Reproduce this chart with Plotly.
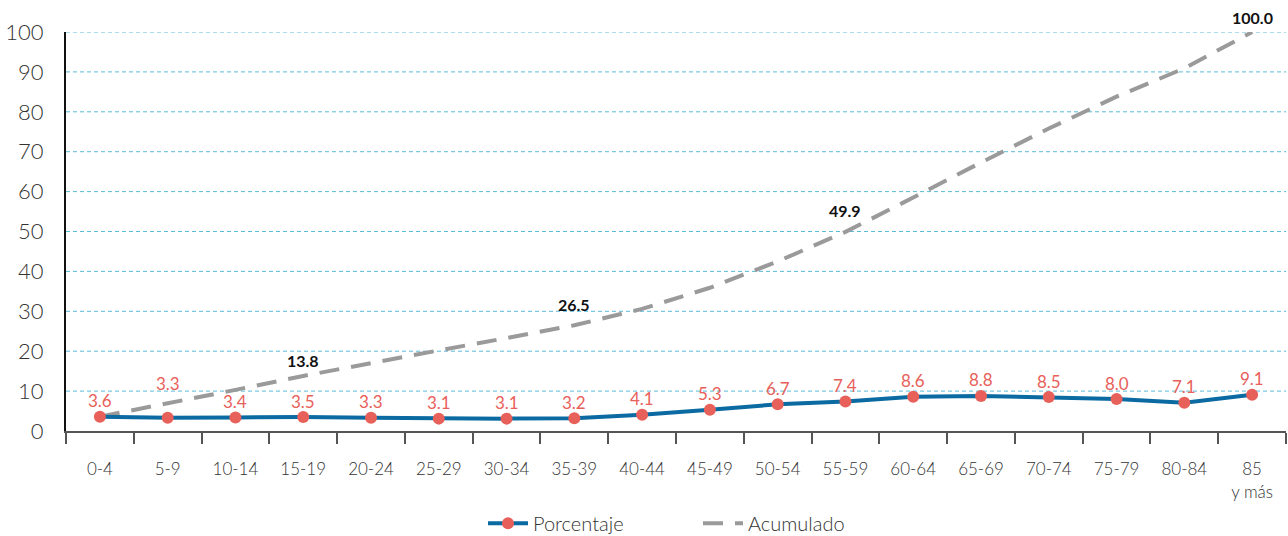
import plotly.graph_objects as go

categories = ["0-4", "5-9", "10-14", "15-19", "20-24", "25-29", "30-34", "35-39", "40-44",
              "45-49", "50-54", "55-59", "60-64", "65-69", "70-74", "75-79", "80-84", "85<br>y más"]
porcentaje = [3.6, 3.3, 3.4, 3.5, 3.3, 3.1, 3.1, 3.2, 4.1, 5.3, 6.7, 7.4, 8.6, 8.8, 8.5, 8.0, 7.1, 9.1]
acumulado = [3.6, 6.9, 10.3, 13.8, 17.1, 20.2, 23.3, 26.5, 30.6, 35.9, 42.5, 49.9, 58.5, 67.3, 75.8, 83.8, 90.9, 100.0]
acum_label_idx = [3, 7, 11, 17]
y_ticks = [0, 10, 20, 30, 40, 50, 60, 70, 80, 90, 100]

FONT = "Lato"
BLUE = "#0a6aa1"
RED = "#e8605a"
GRAY = "#9a9a9a"
GRID = "#5bbbd9"
TXT = "#333333"

fig = go.Figure()
for v in y_ticks[1:]:
    fig.add_shape(type="line", xref="paper", x0=0, x1=1, yref="y", y0=v, y1=v,
                  line=dict(color=GRID, width=1, dash="4px,3px"), layer="below")

fig.add_trace(go.Scatter(
    x=categories, y=acumulado, mode="lines", name="Acumulado",
    line=dict(color=GRAY, width=4, dash="20px,12px"), cliponaxis=False,
))
fig.add_trace(go.Scatter(
    x=categories, y=porcentaje, mode="lines+markers", name="Porcentaje",
    line=dict(color=BLUE, width=4),
    marker=dict(color=RED, size=12), cliponaxis=False,
))

for i, (c, v) in enumerate(zip(categories, porcentaje)):
    fig.add_annotation(x=c, y=v, text=f"{v:.1f}", showarrow=False,
                       yshift=34 if i == 1 else 16,
                       font=dict(family=FONT, size=17, color=RED))
for i in acum_label_idx:
    fig.add_annotation(x=categories[i], y=acumulado[i], text=f"<b>{acumulado[i]:.1f}</b>",
                       showarrow=False, yshift=15 if i in (3, 17) else 21,
                       font=dict(family=FONT, size=16, color="#111111"))

fig.update_layout(
    width=1288, height=536,
    margin=dict(l=66, r=2, t=32, b=105, autoexpand=False),
    paper_bgcolor="white", plot_bgcolor="white",
    font=dict(family=FONT, color=TXT),
    showlegend=True,
    legend=dict(orientation="h", x=0.3418, xanchor="left", yref="container", y=0.024, yanchor="middle",
                traceorder="reversed", font=dict(size=20, color=TXT, weight=300),
                itemwidth=40, entrywidth=160),
    xaxis=dict(
        type="category", range=[-0.5, len(categories) - 0.5],
        tickson="boundaries", ticks="outside", ticklen=11, tickwidth=2, tickcolor="#555555",
        showline=True, linecolor="#555555", linewidth=2, showgrid=False,
        tickfont=dict(family=FONT, size=17, color=TXT, weight=300), ticklabelstandoff=22,
    ),
    yaxis=dict(
        range=[0, 100], tickvals=y_ticks, showline=True, linecolor="#111111", linewidth=2,
        showgrid=False, zeroline=False, ticks="",
        tickfont=dict(family=FONT, size=22, color=TXT, weight=300),
        ticklabelstandoff=16,
    ),
)

fig.write_html("out.html")
